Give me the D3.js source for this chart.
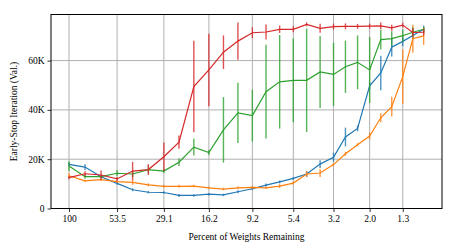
<!DOCTYPE html>
<html><head><meta charset="utf-8">
<script src="https://cdn.jsdelivr.net/npm/d3@7"></script>
<style>body{margin:0;background:#fff}svg{display:block}text{font-family:"Liberation Serif","Times New Roman",serif}</style>
</head><body><svg id="c" width="457" height="252"></svg>
<script>
const percents = [100, 81.2, 65.9, 53.5, 43.7, 35.6, 29.1, 23.9, 19.7, 16.2, 13.4, 11.1, 9.2, 7.7, 6.45, 5.4, 4.54, 3.81, 3.2, 2.74, 2.34, 2.0, 1.73, 1.5, 1.3, 1.14, 0.99];
const xTicks = [100, 53.5, 29.1, 16.2, 9.2, 5.4, 3.2, 2.0, 1.3];
const xTickLabels = ["100", "53.5", "29.1", "16.2", "9.2", "5.4", "3.2", "2.0", "1.3"];
const yTicks = [0, 20000, 40000, 60000];
const yTickLabels = ["0", "20K", "40K", "60K"];
const blue = [17.9, 16.8, 12.9, 10.2, 7.6, 6.6, 6.5, 5.3, 5.3, 5.8, 5.5, 6.8, 8.0, 9.5, 10.8, 12.2, 14.0, 18.0, 20.8, 29.0, 32.5, 49.8, 55.0, 65.4, 67.8, 70.2, 72.7];
const blueErr = [0.8, 1.2, 0.6, 0.6, 0.6, 0.5, 0.5, 0.6, 0.5, 0.5, 0.5, 0.6, 0.6, 0.6, 0.6, 0.6, 1.2, 1.6, 1.8, 3.8, 1.2, 1.5, 7.0, 3.7, 2.0, 1.5, 1.5];
const orange = [13.3, 11.2, 11.7, 10.9, 10.6, 9.6, 9.0, 9.0, 9.1, 8.4, 7.9, 8.4, 8.6, 8.4, 9.1, 10.3, 14.0, 14.4, 17.8, 22.2, 25.9, 29.4, 36.8, 41.3, 53.5, 68.9, 70.0];
const orangeErr = [1.0, 0.5, 0.5, 0.6, 1.0, 0.6, 0.5, 0.6, 0.5, 0.5, 0.5, 0.6, 0.6, 0.5, 0.8, 0.6, 1.2, 1.6, 0.6, 0.8, 0.6, 1.4, 1.8, 4.0, 11.0, 5.6, 3.6];
const green = [17.2, 12.9, 12.9, 14.3, 14.0, 15.8, 15.2, 18.8, 24.9, 22.7, 31.9, 38.8, 37.7, 47.4, 51.4, 52.0, 52.0, 55.4, 54.4, 57.5, 59.3, 56.2, 68.5, 68.9, 70.1, 71.5, 72.7];
const greenErr = [2.0, 0.8, 0.8, 1.2, 1.2, 1.6, 0.8, 1.6, 3.4, 1.0, 13.3, 12.2, 10.5, 19, 19, 17, 21, 14.6, 12.8, 10.6, 10.9, 13.4, 4, 3, 2.5, 2, 1];
const red = [12.5, 14.1, 13.6, 12.0, 15.2, 15.8, 21.0, 26.9, 49.5, 56.2, 63.4, 67.9, 71.3, 71.6, 72.7, 72.7, 74.7, 73.1, 73.8, 73.9, 73.9, 74.0, 74.1, 73.3, 74.4, 71.4, 71.5];
const redErr = [0.6, 1.0, 1.8, 0.8, 3.7, 2.2, 5.8, 2.7, 18.6, 14.7, 6.8, 7.6, 2.2, 3.0, 1.5, 1.2, 0.8, 1.8, 1.2, 1.2, 1.0, 1.0, 1.4, 1.2, 1.0, 1.7, 1.3];

const series = [
  {v: blue, e: blueErr, c: "#1f77b4"},
  {v: orange, e: orangeErr, c: "#ff7f0e"},
  {v: green, e: greenErr, c: "#2ca02c"},
  {v: red, e: redErr, c: "#d62728"}
];

const L = 51, R = 442, T = 14.5, B = 208.5;
const x = d3.scaleLog().domain([126.4, 0.78]).range([L, R]);
const y = d3.scaleLinear().domain([0, 78700]).range([B, T]);
const svg = d3.select("#c");

// grid
const g = svg.append("g");
g.selectAll(".vg").data(xTicks).enter().append("line")
  .attr("x1", d => x(d)).attr("x2", d => x(d)).attr("y1", T).attr("y2", B)
  .attr("stroke", "#b0b0b0").attr("stroke-width", 1);
g.selectAll(".hg").data(yTicks.slice(1)).enter().append("line")
  .attr("x1", L).attr("x2", R).attr("y1", d => y(d)).attr("y2", d => y(d))
  .attr("stroke", "#b0b0b0").attr("stroke-width", 1);

// series
series.forEach(s => {
  const pts = s.v.map((v, i) => ({p: percents[i], v: v * 1000, e: s.e[i] * 1000}));
  const sg = svg.append("g");
  sg.selectAll("line").data(pts).enter().append("line")
    .attr("x1", d => x(d.p)).attr("x2", d => x(d.p))
    .attr("y1", d => y(d.v - d.e)).attr("y2", d => y(d.v + d.e))
    .attr("stroke", s.c).attr("stroke-width", 1.4).attr("stroke-opacity", 0.8);
  sg.append("path").datum(pts)
    .attr("d", d3.line().x(d => x(d.p)).y(d => y(d.v)))
    .attr("fill", "none").attr("stroke", s.c).attr("stroke-width", 1.2);
});

// axes
const xAxis = d3.axisBottom(x).tickValues(xTicks).tickFormat((d, i) => xTickLabels[i]).tickSize(3.5).tickPadding(3);
const yAxis = d3.axisLeft(y).tickValues(yTicks).tickFormat((d, i) => yTickLabels[i]).tickSize(3.5).tickPadding(3);
const xa = svg.append("g").attr("transform", `translate(0,${B})`).call(xAxis);
const ya = svg.append("g").attr("transform", `translate(${L},0)`).call(yAxis);
[xa, ya].forEach(a => {
  a.select(".domain").remove();
  a.selectAll("line").attr("stroke", "#000").attr("stroke-width", 0.8);
  a.selectAll("text").attr("font-family", "Liberation Serif").attr("font-size", 9.5).attr("fill", "#000");
});
svg.append("rect").attr("x", L).attr("y", T).attr("width", R - L).attr("height", B - T)
  .attr("fill", "none").attr("stroke", "#000").attr("stroke-width", 1);

svg.append("text").attr("x", (L + R) / 2).attr("y", 240).attr("text-anchor", "middle")
  .attr("font-size", 9.5).text("Percent of Weights Remaining");
svg.append("text").attr("transform", `translate(17,${(T + B) / 2}) rotate(-90)`).attr("text-anchor", "middle")
  .attr("font-size", 9.5).text("Early-Stop Iteration (Val.)");
</script></body></html>
